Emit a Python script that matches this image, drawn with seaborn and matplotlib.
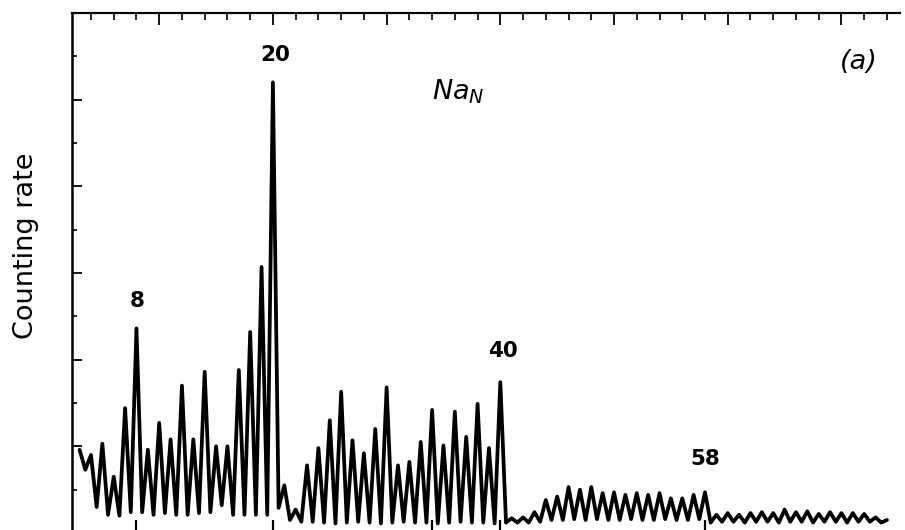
import numpy as np
import pandas as pd
import matplotlib
matplotlib.use('Agg')
import matplotlib.pyplot as plt
from matplotlib.ticker import MultipleLocator
import seaborn as sns

# cluster size N at each peak of the Na_N mass spectrum
peak_n = list(range(3, 75))

# counting rate at the peaks (arbitrary units)
peak_val = [0.96, 0.90, 1.03, 0.65, 1.44, 2.36, 0.96, 1.27, 1.08, 1.70,
            1.08, 1.86, 1.00, 1.00, 1.88, 2.32, 3.07, 5.20,
            0.55, 0.27, 0.78, 0.98, 1.30, 1.63, 1.07, 0.92, 1.20, 1.68,
            0.78, 0.82, 1.05, 1.42, 1.01, 1.40, 1.11, 1.49, 0.98, 1.74,
            0.17, 0.18, 0.24, 0.38, 0.42, 0.53, 0.50, 0.53, 0.46, 0.47,
            0.44, 0.46, 0.44, 0.46, 0.40, 0.40, 0.44, 0.47,
            0.21, 0.23, 0.21, 0.23, 0.24, 0.23, 0.27, 0.24, 0.25, 0.22,
            0.24, 0.23, 0.23, 0.22, 0.18, 0.15]

# counting rate in the valley between N and N+1
trough_val = [0.73, 0.30, 0.21, 0.20, 0.24, 0.24, 0.21, 0.23, 0.21, 0.21,
              0.23, 0.24, 0.32, 0.21, 0.21, 0.21, 0.21, 0.29,
              0.15, 0.13,
              0.13, 0.12, 0.11, 0.12, 0.13, 0.12, 0.11, 0.12, 0.13, 0.12,
              0.12, 0.11, 0.12, 0.13, 0.12, 0.12, 0.11,
              0.12,
              0.12, 0.12, 0.13, 0.15, 0.15, 0.16, 0.15, 0.16, 0.15, 0.15,
              0.16, 0.15, 0.15, 0.16, 0.15, 0.15, 0.16,
              0.12,
              0.13, 0.13, 0.12, 0.13, 0.13, 0.12, 0.13, 0.13, 0.12, 0.13,
              0.13, 0.12, 0.13, 0.13, 0.12]

magic = [8, 20, 34, 40, 58]


def build_trace():
    xs, ys = [], []
    for i, n in enumerate(peak_n):
        xs.append(n)
        ys.append(peak_val[i])
        if i < len(trough_val):
            xs.append(n + 0.5)
            ys.append(trough_val[i])
    return pd.DataFrame({'N': xs, 'rate': ys})


sns.set_style('ticks', {'axes.edgecolor': 'black', 'text.color': 'black',
                        'xtick.color': 'black', 'ytick.color': 'black',
                        'axes.labelcolor': 'black'})
plt.rcParams['font.family'] = ['DejaVu Sans']

df = build_trace()

fig = plt.figure(figsize=(9.05, 5.30), dpi=100)
ax = fig.add_axes([72 / 905, -3 / 530, 828 / 905, 520 / 530])

sns.lineplot(data=df, x='N', y='rate', sort=False, color='black',
             linewidth=2.7, ax=ax)
ax.lines[0].set_solid_joinstyle('round')

ax.set_xlim(2.33, 75.15)
ax.set_ylim(0, 6)

for side in ['right', 'bottom']:
    ax.spines[side].set_visible(False)
ax.spines['left'].set_linewidth(1.8)
ax.spines['top'].set_linewidth(1.5)

# magic-number marks along the bottom edge
ax.set_xticks(magic)
ax.tick_params(axis='x', which='both', direction='in', length=9.5, width=1.6,
               bottom=True, top=False, labelbottom=False)

ax.yaxis.set_major_locator(MultipleLocator(1))
ax.yaxis.set_minor_locator(MultipleLocator(0.5))
ax.tick_params(axis='y', which='major', direction='in', length=7, width=1.3,
               labelleft=False)
ax.tick_params(axis='y', which='minor', direction='in', length=3.8, width=1.2,
               left=True)

top = ax.secondary_xaxis('top')
top.set_xticks(range(10, 80, 10))
top.xaxis.set_minor_locator(MultipleLocator(2))
top.tick_params(which='major', direction='in', length=8.5, width=1.3,
                labeltop=False)
top.tick_params(which='minor', direction='in', length=5, width=1.2)
top.spines['top'].set_linewidth(1.5)

ax.set_xlabel('')
ax.set_ylabel('Counting rate', fontsize=19.5, va='center')
ax.yaxis.set_label_coords(-0.056, 0.553)

ax.text(20.2, 5.51, '20', fontsize=15.5, weight='bold', ha='center', va='center')
ax.text(8.1, 2.68, '8', fontsize=15.5, weight='bold', ha='center', va='center')
ax.text(40.2, 2.10, '40', fontsize=15.5, weight='bold', ha='center', va='center')
ax.text(58.0, 0.85, '58', fontsize=15.5, weight='bold', ha='center', va='center')

ax.text(34.0, 5.0, r'$Na_N$', fontsize=19.5, ha='left', va='baseline')
ax.text(71.5, 5.43, '(a)', fontsize=19.5, style='italic',
        ha='center', va='center')

fig.savefig('out.png', dpi=100)
